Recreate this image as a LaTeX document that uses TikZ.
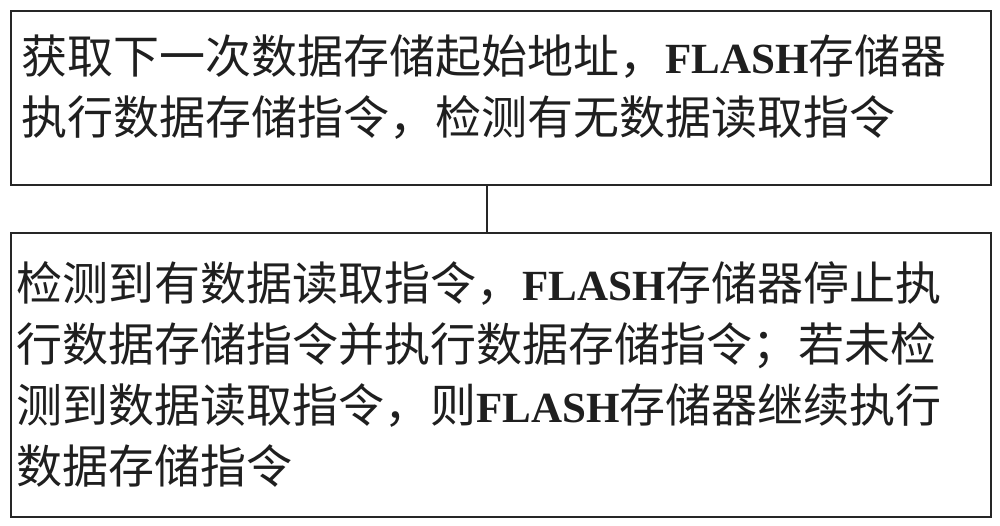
\documentclass[tikz,border=0pt]{standalone}
\usepackage{fontspec}
\newfontfamily\cjk{Noto Sans CJK SC}
\newfontfamily\latinb{Liberation Serif}
\newcommand{\FL}{{\latinb\bfseries\fontsize{43pt}{61pt}\selectfont FLASH}}
\begin{document}
\begin{tikzpicture}[x=1pt,y=1pt]
\tikzset{
  boxstyle/.style={draw=black!85, line width=1.6pt, rectangle, inner sep=0pt, anchor=north west},
  txtstyle/.style={inner sep=0pt, align=left, anchor=west, text=black!88,
    font=\cjk\fontsize{46pt}{61pt}\selectfont},
  linkstyle/.style={draw=black!85, line width=1.6pt}
}
\useasboundingbox (0,0) rectangle (1000,-526);
\fill[white] (0,0) rectangle (1000,-526);
\node[boxstyle, minimum width=980pt, minimum height=174pt] (b1) at (10,-10) {};
\node[boxstyle, minimum width=980pt, minimum height=284pt] (b2) at (10,-232) {};
\node[txtstyle] (t1) at (21,-87) {获取下一次数据存储起始地址，\FL 存储器\\执行数据存储指令，检测有无数据读取指令};
\node[txtstyle] (t2) at (16,-374.5) {检测到有数据读取指令，\FL 存储器停止执\\行数据存储指令并执行数据存储指令；若未检\\测到数据读取指令，则\FL 存储器继续执行\\数据存储指令};
\draw[linkstyle] ([xshift=-14pt]b1.south) -- ([xshift=-14pt]b2.north);
\end{tikzpicture}
\end{document}
